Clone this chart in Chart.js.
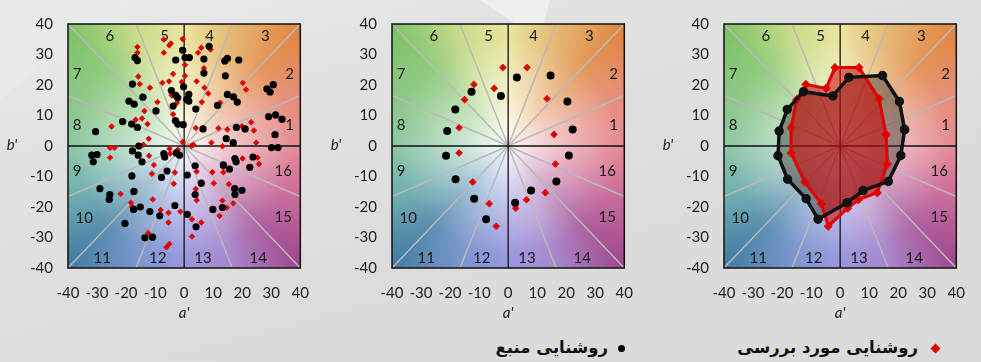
<!DOCTYPE html>
<html>
<head>
<meta charset="utf-8">
<script src="https://cdn.jsdelivr.net/npm/chart.js@4.4.1/dist/chart.umd.min.js"></script>
<style>
  body { margin: 0; width: 981px; height: 362px; overflow: hidden; position: relative;
         background: linear-gradient(165deg, #ececec 0%, #e2e2e2 25%, #dcdcdc 60%, #dadada 100%);
         font-family: Lato, sans-serif; }
  .shape { position: absolute; }
  .panel { position: absolute; top: 0; width: 325px; height: 330px; }
  .leg { position: absolute; top: 338px; direction: rtl; font-family: "DejaVu Sans", sans-serif;
         font-weight: bold; font-size: 16.5px; color: #111; white-space: nowrap; }
  .mk { display: inline-block; vertical-align: middle; margin-left: 10px; }
  .diamond { width: 7px; height: 7px; background: #e00000; transform: rotate(45deg); margin-left: 14px; }
  .dot { width: 7px; height: 7px; border-radius: 50%; background: #000; }
</style>
</head>
<body>
<div class="shape" style="left:0;top:0;width:120px;height:100px;background:#e9e9e9;clip-path:polygon(0 0,100% 0,0 100%)"></div>
<div class="shape" style="left:480px;top:0;width:70px;height:40px;background:#efefef;clip-path:polygon(0 0,100% 0,85% 100%)"></div>

<div class="panel" style="left:0"><canvas id="c1" width="325" height="330"></canvas></div>
<div class="panel" style="left:324px"><canvas id="c2" width="325" height="330"></canvas></div>
<div class="panel" style="left:656px"><canvas id="c3" width="325" height="330"></canvas></div>

<div class="leg" style="right:42px"><span class="mk diamond"></span>روشنایی مورد بررسی</div>
<div class="leg" style="right:356px"><span class="mk dot"></span>روشنایی منبع</div>

<script>
// axis ticks
const tickMin = -40, tickMax = 40, tickStep = 10;

// hue bin labels and where they sit (a', b')
const binLabels = ['1','2','3','4','5','6','7','8','9','10','11','12','13','14','15','16'];
const binLabelPos = [[36.3,6.9],[36.3,23.6],[28,36],[8.8,36],[-6.7,36],[-25.6,36],[-36.9,23.6],[-36.9,6.9],
                     [-36.9,-8.2],[-34.4,-23.5],[-28.2,-36.9],[-9.1,-36.9],[6.5,-36.9],[25.5,-36.9],[34.1,-23.3],[34.1,-8.2]];

// background hue wheel (degrees ccw from +a')
const hueStops = [[0,'#e07a84'],[22.5,'#e27e6c'],[45,'#e0843e'],[67.5,'#e2b062'],[90,'#e7e08e'],
                  [112.5,'#c4d77c'],[135,'#7cc266'],[157.5,'#7dc07a'],[180,'#7cbf96'],[202.5,'#5ea6a4'],
                  [225,'#3f7ca2'],[247.5,'#6a88c8'],[270,'#8a88d8'],[292.5,'#9c78c6'],[315,'#a0458c'],[337.5,'#c85a8c']];

// panel 1: individual samples
const srcSamples = [
  [8.6,32.7],[-0.5,31.4],[-2.9,28.2],[0.3,29],[1.8,29],[6.8,28.5],[6.8,23.9],[14,27.9],[14.9,28.7],[18.8,28.2],
  [14.2,23],[-16.9,29],[-16.1,28],[-17.8,20.3],[-0.2,19.4],[-4.4,18.2],[1.6,16.9],[0.9,15.3],[1.6,14.7],[-2.9,16.6],
  [-2.2,15.8],[-3.8,13.1],[4,12.1],[11.5,13.3],[14.9,16.9],[17,16.1],[18.3,14.4],[28.5,18.7],[29.6,17.7],[30.7,20.1],
  [29.1,9.6],[31.5,10.2],[33.7,8.8],[31.3,3.7],[30.1,-0.5],[32.3,-0.5],[18,6.1],[21,5.6],[16.9,1.1],[14.5,2.4],
  [6.5,5.6],[-0.3,7],[-3,8.3],[-2.2,7.2],[-9.7,11.5],[-19,14.7],[-17.2,13.7],[-14.2,16],[-21.2,8],[-18.1,7.2],
  [-16.1,6.1],[-30.5,4.7],[-31.8,-3],[-30,-2.8],[-31.3,-5.2],[-17.8,-1.6],[-15.8,-3],[-15.6,0],[-14.5,-5.2],[-18,-9.8],
  [-17.3,-14.9],[-29,-14],[-25.6,-15.9],[-25.8,-17.5],[-20.4,-25.4],[-17.4,-20.8],[-15.1,-20],[-11.8,-21.5],[-8.4,-22.9],[-13.5,-30.1],
  [-10.9,-29.9],[-3.2,-19.5],[-7.8,-10.3],[-5.9,-8.2],[-6.7,-3.6],[-7,-2.5],[-2.7,-2.3],[-1.6,-3],[1.1,-9.5],[3.8,-6.5],
  [5.9,-12.2],[3.8,-15.9],[1.1,-22.4],[4.1,-26.5],[9.9,-20.8],[13.2,-20.2],[13.5,-6.2],[15.6,-7.6],[17.4,-14],[17.5,-15.9],
  [19.9,-14.5],[17.5,-4.1],[17.9,-5.2],[23.7,-3.6],[22.6,-7]
];
const testSamples = [
  [-16.1,32.5],[-16.1,30.6],[-7,34.9],[-4.6,33.6],[-5.1,33],[-0.5,35.1],[-0.8,31.6],[-7,30.6],[0.3,26.6],[4.8,30.6],
  [5.9,32.2],[9.1,31.6],[6.8,25.5],[-15.8,22.8],[-15.3,20.3],[-11.8,19.1],[-14,16.1],[-7.5,20.7],[-3.8,23.6],[-5.2,21.2],
  [-4.3,16.6],[-2.5,14.2],[-3.8,10.4],[-2,6.9],[-9.2,14.4],[-13.7,11.5],[-16.7,8.6],[-14.5,9],[-12.6,7.2],[-25,6.4],
  [-12.2,2.4],[-14,0.4],[-25.5,-0.6],[-24,-0.6],[-25.5,-3.8],[-12.1,-3.2],[-10.4,-6.2],[-11.1,-9.1],[-3.2,-8.7],[-3.6,-12.4],
  [-21.9,-15.7],[-18.3,-18.6],[-17.9,-20],[-10.8,-17.5],[-8.1,-21],[-5.4,-21.9],[-5.4,-25.1],[-1.3,-21.5],[-12.4,-28.5],[-6.1,-33.2],
  [-5.1,-32.1],[2.7,-24],[5.9,-25.1],[2.7,-29.7],[4,-14.1],[4.3,-17.8],[4.3,-8.4],[9.7,-8.6],[10.2,-12.2],[13.5,-7],
  [13.5,-8.6],[13.2,-17.9],[14.7,-20.2],[12.2,-22.9],[16.9,-18.8],[15.4,-12.5],[20.1,-4.1],[25.3,-3.8],[25.8,-5.9],[24.8,1.1],
  [9.4,1.1],[13.2,-0.1],[2.5,0],[3.2,0.4],[-0.5,1.3],[-2.2,-1.2],[-5,-0.9],[-4.8,-2.5],[4,5.9],[11.8,5.8],
  [14.9,5.4],[19.9,6.5],[23.1,7.8],[24,5.1],[12.4,14.2],[6.1,14.4],[7,19.1],[8.3,17.2],[20.2,20.7],[21.3,18.5],
  [4.3,21.2],[-0.8,21],[0.3,23]
];

// panels 2 and 3: bin averages, hue bins 1..16
const srcBins = [[22.2,5.4],[20.4,14.6],[14.6,23.1],[3.0,22.5],[-2.5,16.4],[-12.6,17.8],[-18.2,12.0],[-21.0,4.9],
                 [-21.4,-3.2],[-18.1,-10.9],[-11.7,-17.3],[-7.6,-24.0],[2.4,-18.6],[7.9,-14.6],[16.6,-11.6],[20.9,-3.1]];
const testBins = [[15.8,3.8],[13.4,15.5],[6.5,25.7],[-1.8,25.7],[-4.8,18.9],[-11.8,20.2],[-15.0,15.2],[-16.9,6.0],
                  [-16.9,-2.3],[-12.2,-11.8],[-6.5,-18.9],[-4.1,-26.3],[2.6,-20.4],[6.3,-17.6],[12.8,-15.3],[16.3,-5.9]];

const toXY = arr => arr.map(([x, y]) => ({ x, y }));
const closed = arr => toXY(arr.concat([arr[0]]));

const hueBackground = {
  id: 'hueBackground',
  beforeDatasetsDraw(chart) {
    const { ctx, chartArea: a, scales: { x, y } } = chart;
    const cx = x.getPixelForValue(0), cy = y.getPixelForValue(0);
    ctx.save();
    ctx.beginPath();
    ctx.rect(a.left, a.top, a.width, a.height);
    ctx.clip();

    const g = ctx.createConicGradient(0, cx, cy);
    hueStops.forEach(([deg, col]) => g.addColorStop(deg === 0 ? 0 : (360 - deg) / 360, col));
    g.addColorStop(1, hueStops[0][1]);
    ctx.fillStyle = g;
    ctx.fillRect(a.left, a.top, a.width, a.height);

    const r = ctx.createRadialGradient(cx, cy, 0, cx, cy, a.width * 0.72);
    r.addColorStop(0, 'rgba(255,255,255,0.95)');
    r.addColorStop(0.3, 'rgba(255,255,255,0.55)');
    r.addColorStop(0.65, 'rgba(255,255,255,0.15)');
    r.addColorStop(1, 'rgba(255,255,255,0)');
    ctx.fillStyle = r;
    ctx.fillRect(a.left, a.top, a.width, a.height);

    // bin spokes
    ctx.strokeStyle = '#b9b9b9';
    ctx.lineWidth = 1.5;
    for (let k = 1; k < 16; k++) {
      if (k % 4 === 0) continue;
      const t = k * Math.PI / 8;
      const c = Math.cos(t), s = Math.sin(t);
      const m = tickMax / Math.max(Math.abs(c), Math.abs(s));
      ctx.beginPath();
      ctx.moveTo(cx, cy);
      ctx.lineTo(x.getPixelForValue(m * c), y.getPixelForValue(m * s));
      ctx.stroke();
    }
    // zero lines
    ctx.strokeStyle = '#111';
    ctx.lineWidth = 1.3;
    ctx.beginPath();
    ctx.moveTo(a.left, cy); ctx.lineTo(a.right, cy);
    ctx.moveTo(cx, a.top); ctx.lineTo(cx, a.bottom);
    ctx.stroke();

    // bin numbers
    ctx.fillStyle = '#1a1a1a';
    ctx.font = '15px Lato';
    ctx.textAlign = 'center';
    ctx.textBaseline = 'middle';
    binLabels.forEach((lab, i) => {
      ctx.fillText(lab, x.getPixelForValue(binLabelPos[i][0]), y.getPixelForValue(binLabelPos[i][1]));
    });

    // polygon fills
    chart.data.datasets.forEach((ds, i) => {
      if (!ds.polyFill) return;
      const pts = chart.getDatasetMeta(i).data;
      ctx.beginPath();
      pts.forEach((p, j) => j ? ctx.lineTo(p.x, p.y) : ctx.moveTo(p.x, p.y));
      ctx.closePath();
      ctx.fillStyle = ds.polyFill;
      ctx.fill();
    });
    ctx.restore();
  },
  afterDatasetsDraw(chart) {
    const { ctx, chartArea: a } = chart;
    ctx.save();
    ctx.strokeStyle = '#111';
    ctx.lineWidth = 1.5;
    ctx.strokeRect(a.left, a.top, a.width, a.height);
    ctx.fillStyle = '#222';
    ctx.font = 'italic 15px Lato';
    ctx.textAlign = 'center';
    ctx.textBaseline = 'middle';
    ctx.fillText("b'", a.left - 56, (a.top + a.bottom) / 2 - 1);
    ctx.fillText("a'", (a.left + a.right) / 2, a.bottom + 45);
    ctx.restore();
  }
};

function axis(isX) {
  return {
    type: 'linear', min: tickMin, max: tickMax,
    grid: { display: false, drawTicks: false },
    border: { display: false },
    ticks: { stepSize: tickStep, color: '#222', font: { family: 'Lato', size: 15 }, padding: isX ? 16 : 15 },
    afterFit(scale) { if (isX) scale.height = 62; else scale.width = 68; }
  };
}

function makeChart(id, datasets) {
  return new Chart(document.getElementById(id), {
    type: 'scatter',
    data: { datasets },
    options: {
      responsive: false,
      animation: false,
      layout: { padding: { top: 19, right: 8, left: 0, bottom: 0 } },
      plugins: { legend: { display: false }, tooltip: { enabled: false } },
      scales: { x: axis(true), y: axis(false) }
    },
    plugins: [hueBackground]
  });
}

makeChart('c1', [
  { data: toXY(srcSamples), pointStyle: 'circle', pointRadius: 3.6, backgroundColor: '#000', borderColor: '#000', borderWidth: 0 },
  { data: toXY(testSamples), pointStyle: 'rectRot', pointRadius: 3.2, backgroundColor: '#e00000', borderColor: '#e00000', borderWidth: 0 }
]);

makeChart('c2', [
  { data: toXY(srcBins), pointStyle: 'circle', pointRadius: 4, backgroundColor: '#000', borderColor: '#000', borderWidth: 0 },
  { data: toXY(testBins), pointStyle: 'rectRot', pointRadius: 3.8, backgroundColor: '#e00000', borderColor: '#e00000', borderWidth: 0 }
]);

makeChart('c3', [
  { data: closed(srcBins), showLine: true, polyFill: 'rgba(50,50,45,0.45)', borderColor: '#111', borderWidth: 3.5,
    pointStyle: 'circle', pointRadius: 3, backgroundColor: '#111' },
  { data: closed(testBins), showLine: true, polyFill: 'rgba(205,0,0,0.55)', borderColor: '#e00000', borderWidth: 3,
    pointStyle: 'rectRot', pointRadius: 2.4, backgroundColor: '#e00000' }
]);
</script>
</body>
</html>
